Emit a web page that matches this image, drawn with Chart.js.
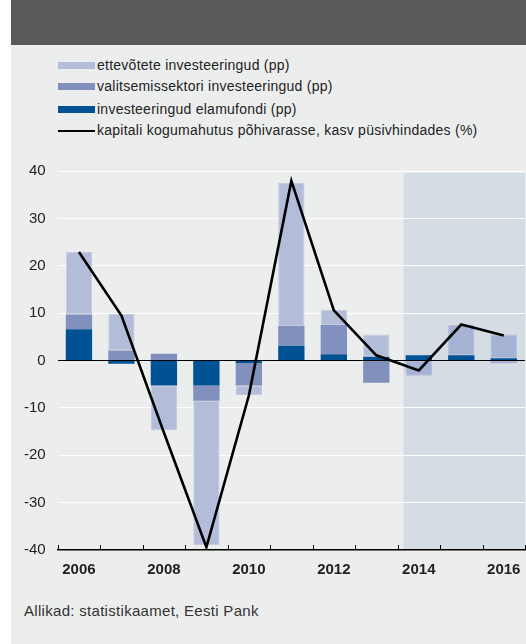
<!DOCTYPE html>
<html>
<head>
<meta charset="utf-8">
<script src="https://cdn.jsdelivr.net/npm/chart.js@4/dist/chart.umd.min.js"></script>
<style>
  html, body { margin: 0; padding: 0; background: #fff; }
  body { width: 526px; height: 644px; position: relative; overflow: hidden; font-family: "Liberation Sans", Arial, sans-serif; }
  #panel { position: absolute; left: 11px; top: 0; width: 515px; height: 644px; background: #eceeed; }
  #head { position: absolute; left: 11px; top: 0; width: 515px; height: 45px; background: #5a5a5c; }
  .leg { position: absolute; left: 58px; height: 20px; font-size: 14px; letter-spacing: 0.25px; color: #222; white-space: nowrap; }
  .leg i { position: absolute; left: 0; width: 37px; }
  .leg span { position: absolute; left: 39px; top: 1px; }
  #box { position: absolute; left: 11px; top: 150px; width: 515px; height: 440px; }
  #src { position: absolute; left: 24px; top: 602px; font-size: 15px; letter-spacing: 0.3px; color: #333; }
</style>
</head>
<body>
<div id="panel"></div>
<div id="head"></div>
<div class="leg" style="top:56px"><i style="top:6px;height:7px;background:#b3bdda"></i><span>ettevõtete investeeringud (pp)</span></div>
<div class="leg" style="top:77px"><i style="top:6px;height:7px;background:#8290bd"></i><span>valitsemissektori investeeringud (pp)</span></div>
<div class="leg" style="top:100px"><i style="top:6px;height:7px;background:#005294"></i><span>investeeringud elamufondi (pp)</span></div>
<div class="leg" style="top:121px"><i style="top:9px;height:2px;background:#000"></i><span>kapitali kogumahutus põhivarasse, kasv püsivhindades (%)</span></div>
<div id="box"><canvas id="myChart"></canvas></div>
<div id="src">Allikad: statistikaamet, Eesti Pank</div>
<script>
// values
var years = ["2006","2007","2008","2009","2010","2011","2012","2013","2014","2015","2016"];
var elamufond = [6.6, -0.7, -5.3, -5.3, -0.6, 3.1, 1.3, 0.8, 1.1, 1.1, 0.5];
var valitsus = [3.1, 2.1, 1.4, -3.2, -4.7, 4.2, 6.2, -4.7, 0, 0, -0.6];
var ettevotted = [13.2, 7.7, -9.5, -30.5, -2.0, 30.2, 3.2, 4.7, -3.2, 6.4, 5.0];
var kasv = [22.9, 9.5, -15.2, -39.4, -7.4, 37.9, 10.6, 1.1, -2.1, 7.6, 5.3];
var yTicks = [40, 30, 20, 10, 0, -10, -20, -30, -40];
var firstForecast = "2014";

var fc = years.indexOf(firstForecast);
function cols(normal, forecast) {
  return years.map(function(y, i){ return i >= fc ? forecast : normal; });
}

// shaded forecast area + small tick marks standing on the x axis
var extras = {
  id: 'extras',
  beforeDraw: function(chart) {
    var x = chart.scales.x, a = chart.chartArea, c = chart.ctx;
    var step = x.getPixelForValue(1) - x.getPixelForValue(0);
    var left = x.getPixelForValue(fc) - step * 0.36;
    c.save();
    c.fillStyle = '#d4dce4';
    c.fillRect(left, a.top + 2, a.right - left, a.bottom - a.top - 2);
    c.restore();
  },
  afterDraw: function(chart) {
    var x = chart.scales.x, a = chart.chartArea, c = chart.ctx;
    var step = x.getPixelForValue(1) - x.getPixelForValue(0);
    c.save();
    c.strokeStyle = '#000';
    c.lineWidth = 1;
    c.beginPath();
    for (var i = 0; i <= years.length; i++) {
      var px = Math.round(x.getPixelForValue(0) - step / 2 + i * step) + 0.5;
      c.moveTo(px, a.bottom);
      c.lineTo(px, a.bottom - 5);
    }
    c.stroke();
    c.restore();
  }
};

var ctx = document.getElementById("myChart").getContext("2d");
new Chart(ctx, {
  type: 'bar',
  data: {
    labels: years,
    datasets: [
      { type: 'line', label: 'kapitali kogumahutus põhivarasse, kasv püsivhindades (%)', data: kasv,
        borderColor: '#000', borderWidth: 2.6, pointRadius: 0, tension: 0, stack: 'line', order: 0 },
      { label: 'investeeringud elamufondi (pp)', data: elamufond, backgroundColor: '#005294', order: 1 },
      { label: 'valitsemissektori investeeringud (pp)', data: valitsus, backgroundColor: cols('#8290bd', '#a5b2d3'), order: 1 },
      { label: 'ettevõtete investeeringud (pp)', data: ettevotted, backgroundColor: cols('#b3bdda', '#a5b2d3'),
        borderColor: cols('#c2cae2', '#b0bcd9'), borderWidth: 1, borderSkipped: false, order: 1 }
    ]
  },
  options: {
    responsive: true,
    maintainAspectRatio: false,
    animation: false,
    layout: { padding: { top: 21, left: 0, right: 1, bottom: 10 } },
    plugins: { legend: { display: false }, tooltip: { enabled: false } },
    datasets: { bar: { barPercentage: 0.62, categoryPercentage: 1 } },
    scales: {
      x: {
        stacked: true,
        afterFit: function(s){ s.height = 30; },
        grid: { display: false },
        border: { display: true, color: '#000', width: 1.5 },
        ticks: {
          autoSkip: false, maxRotation: 0, padding: 3, color: '#222',
          font: { family: 'Liberation Sans', size: 15, weight: 'bold' },
          callback: function(v, i){ return i % 2 === 0 ? years[i] : ''; }
        }
      },
      y: {
        stacked: true,
        min: -40, max: 40,
        afterFit: function(s){ s.width = 46.7; },
        afterBuildTicks: function(s){ s.ticks = yTicks.map(function(v){ return { value: v }; }); },
        border: { display: false },
        grid: {
          drawTicks: false, lineWidth: 1,
          color: function(c){ return c.tick.value === 0 ? '#000' : (c.tick.value === -40 ? 'rgba(0,0,0,0)' : '#fff'); }
        },
        ticks: { padding: 12, color: '#222', font: { family: 'Liberation Sans', size: 15 } }
      }
    }
  },
  plugins: [extras]
});
</script>
</body>
</html>
